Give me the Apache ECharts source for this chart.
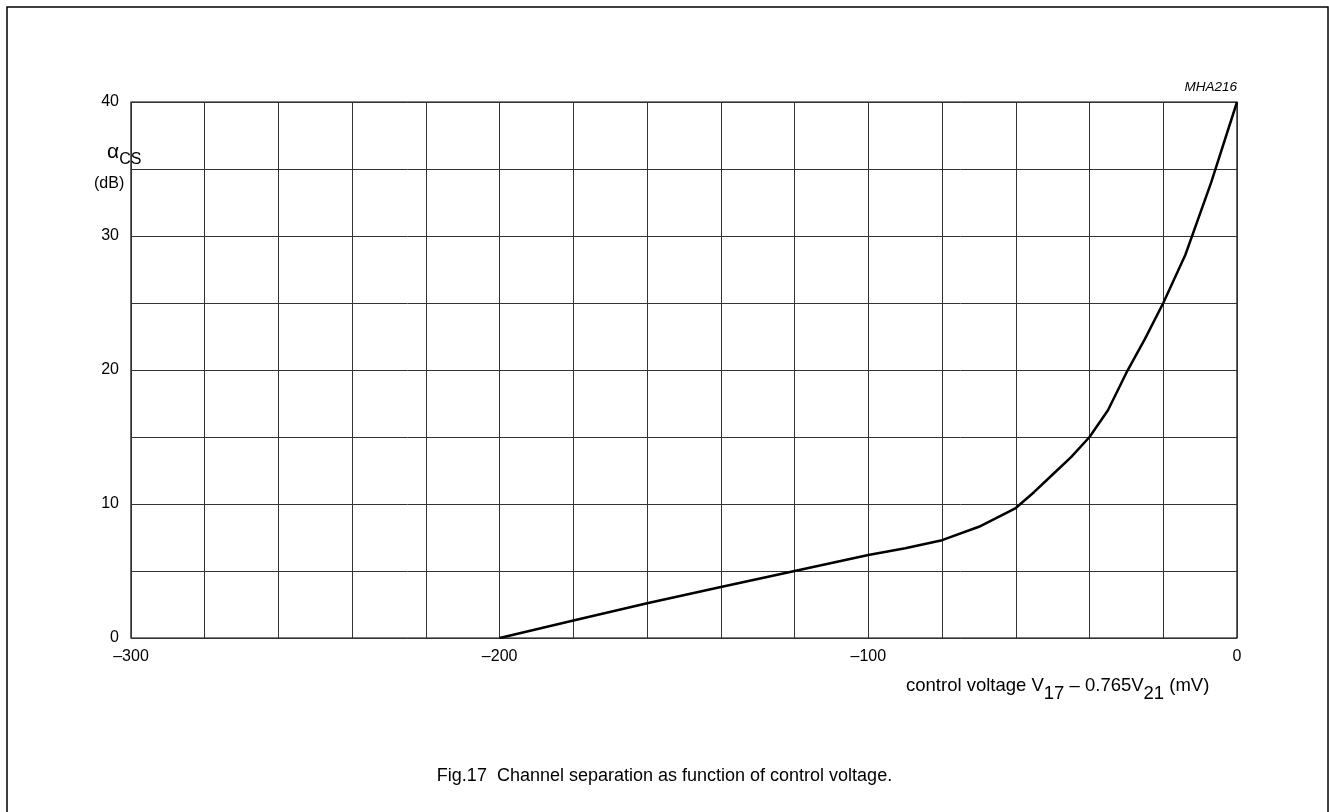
<!DOCTYPE html>
<html>
<head>
<meta charset="utf-8">
<script src="https://cdn.jsdelivr.net/npm/echarts@6/dist/echarts.min.js"></script>
<style>html,body{margin:0;padding:0;background:#fff}#c{width:1329px;height:812px}</style>
</head>
<body>
<div id="c"></div>
<script>
const voltage = [-200,-180,-160,-140,-120,-100,-90,-80,-70,-60,-55,-50,-45,-40,-35,-30,-25,-20,-14,-7,0];
const separation = [0,1.3,2.6,3.8,5,6.2,6.7,7.3,8.3,9.7,10.9,12.2,13.5,15,17,19.8,22.3,25,28.6,34,40];
const xTickLabels = [-300,-200,-100,0];
const yTickLabels = [0,10,20,30,40];

const F = 'Liberation Sans, Arial, sans-serif';
const chart = echarts.init(document.getElementById('c'), null, {renderer:'canvas'});
const fmtX = v => xTickLabels.includes(v) ? (v < 0 ? '\u2013' + Math.abs(v) : String(v)) : '';
const fmtY = v => yTickLabels.includes(v) ? String(v) : '';
chart.setOption({
  animation:false,
  backgroundColor:'#fff',
  grid:{left:131,right:92,top:102,bottom:174,show:true,borderColor:'#000',borderWidth:1.2},
  xAxis:{type:'value',min:-300,max:0,interval:20,
    axisLine:{show:false},axisTick:{show:false},
    splitLine:{show:true,lineStyle:{color:'#333',width:1}},
    axisLabel:{formatter:fmtX,color:'#000',fontFamily:F,fontSize:16,margin:11,showMinLabel:true,showMaxLabel:true}},
  yAxis:{type:'value',min:0,max:40,interval:5,
    axisLine:{show:false},axisTick:{show:false},
    splitLine:{show:true,lineStyle:{color:'#333',width:1}},
    axisLabel:{formatter:fmtY,color:'#000',fontFamily:F,fontSize:16,margin:12}},
  series:[{type:'line',data:voltage.map((v,i)=>[v,separation[i]]),showSymbol:false,
    lineStyle:{color:'#000',width:2.5},smooth:false}],
  graphic:[
    {type:'rect',shape:{x:7,y:7,width:1321,height:820},style:{fill:'none',stroke:'#000',lineWidth:1.5},silent:true},
    {type:'text',right:92,top:80,style:{text:'MHA216',font:'italic 13.5px '+F,fill:'#000',align:'right'}},
    {type:'text',left:107,top:142,style:{
      text:'{a|\u03b1}{s|CS}',
      rich:{a:{fontFamily:F,fontSize:21,fill:'#000',verticalAlign:'top'},s:{fontFamily:F,fontSize:16,fill:'#000',padding:[10,0,0,0]}}}},
    {type:'text',left:94,top:176,style:{text:'(dB)',font:'16px '+F,fill:'#000'}},
    {type:'text',left:906,top:676,style:{
      text:'{n|control voltage V}{s|17}{n| \u2013 0.765V}{s|21}{n| (mV)}',
      rich:{n:{fontFamily:F,fontSize:18.5,fill:'#000',verticalAlign:'top'},s:{fontFamily:F,fontSize:18.5,fill:'#000',padding:[8,0,0,0]}}}},
    {type:'text',left:'center',top:767,style:{text:'Fig.17  Channel separation as function of control voltage.',font:'18px '+F,fill:'#000'}}
  ]
});
</script>
</body>
</html>
